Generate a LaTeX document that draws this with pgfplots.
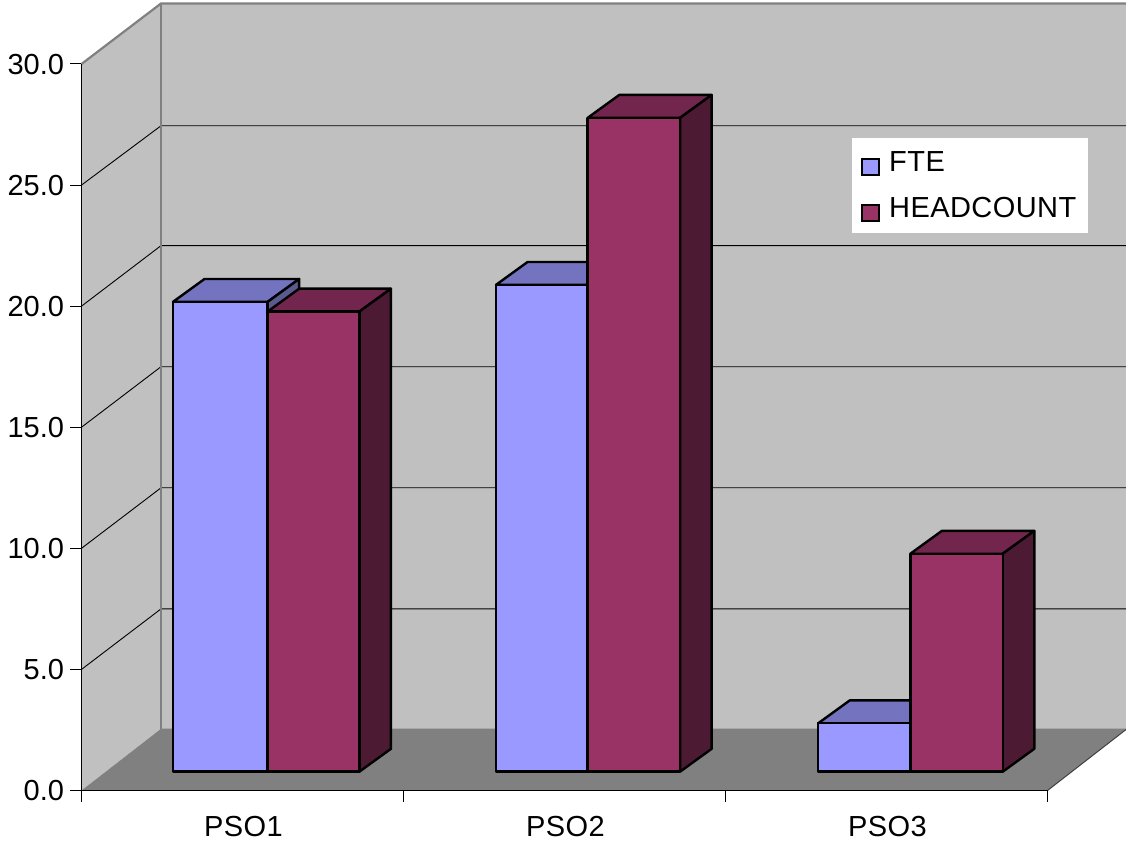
\documentclass[border=0pt]{standalone}
\usepackage{pgfplots}
\pgfplotsset{compat=1.18}
\usepackage{fontspec}
\setmainfont{Liberation Sans}
\newfontfamily\spacedsans[LetterSpace=1.5]{Liberation Sans}

\definecolor{wall}{HTML}{C0C0C0}
\definecolor{floorgrey}{HTML}{808080}
\definecolor{fteFront}{HTML}{9999FF}
\definecolor{fteTop}{HTML}{7373BF}
\definecolor{fteSide}{HTML}{5A5A90}
\definecolor{hcFront}{HTML}{993366}
\definecolor{hcTop}{HTML}{73264D}
\definecolor{hcSide}{HTML}{4D1A33}

% depth of the chart box and of a bar, in axis units
\def\boxdx{0.247}
\def\bardx{0.098}
\def\bardy{0.945}
\def\barbase{0.777}

% one bar: left edge, right edge, value, front, top and side colours
\newcommand{\threedbar}[6]{%
  \pgfmathsetmacro{\ytop}{\barbase+#3}%
  \pgfmathsetmacro{\xlb}{#1+\bardx}%
  \pgfmathsetmacro{\xrb}{#2+\bardx}%
  \pgfmathsetmacro{\ytopb}{\ytop+\bardy}%
  \pgfmathsetmacro{\ybaseb}{\barbase+\bardy}%
  \addplot[barface, fill=#5] coordinates {(#1,\ytop) (\xlb,\ytopb) (\xrb,\ytopb) (#2,\ytop)} -- cycle;
  \addplot[barface, fill=#6] coordinates {(#2,\barbase) (\xrb,\ybaseb) (\xrb,\ytopb) (#2,\ytop)} -- cycle;
  \addplot[barface, fill=#4] coordinates {(#1,\barbase) (#1,\ytop) (#2,\ytop) (#2,\barbase)} -- cycle;
}

\begin{document}
\begin{tikzpicture}[x=1pt,y=1pt]
\path[use as bounding box] (-81.5,-52.5) rectangle (1044.5,790.5);
\begin{axis}[
  at={(0pt,0pt)}, anchor=south west,
  scale only axis, width=966pt, height=726.5pt,
  clip=false, axis on top=true,
  xmin=0, xmax=3, ymin=0, ymax=30,
  axis x line*=bottom, axis y line*=left,
  axis line style={-, line width=1pt, black},
  tick style={line width=1pt, black},
  tick align=outside, major tick length=11pt,
  xtick={0,1,2,3}, x tick label as interval,
  xticklabels={PSO1,PSO2,PSO3},
  ytick={0,5,...,30},
  /pgf/number format/fixed,
  /pgf/number format/fixed zerofill,
  /pgf/number format/precision=1,
  /pgf/number format/assume math mode=true,
  xticklabel style={yshift=-11.5pt, xshift=1pt, font=\fontsize{29}{32}\spacedsans},
  yticklabel style={xshift=-3pt, yshift=-0.5pt, font=\fontsize{29}{32}\selectfont},
  barface/.style={draw=black, line width=2.4pt, line join=round, forget plot},
  legend image code/.code={%
    \path[draw=none,fill=none] (0pt,0pt) -- (25pt,0pt);
    \begin{pgfinterruptboundingbox}
    \draw[#1] (0pt,-12.5pt) rectangle (17pt,3.5pt);
    \end{pgfinterruptboundingbox}},
  legend style={
    at={(0.7976,0.898)}, anchor=north west,
    draw=none, fill=white, inner xsep=10pt, inner ysep=11.7pt,
    font=\fontsize{29}{32}\spacedsans,
    row sep=20pt,
  },
  legend cell align=left,
]
% walls and floor of the chart box
\addplot[fill=wall, draw=none, forget plot] coordinates {(0,0) (0,30) (\boxdx,32.5) (\boxdx,2.55)} -- cycle;
\addplot[fill=wall, draw=none, forget plot] coordinates {(\boxdx,2.55) (\boxdx,32.5) (3.247,32.5) (3.247,2.55)} -- cycle;
\addplot[fill=floorgrey, draw=none, forget plot] coordinates {(0,0) (\boxdx,2.55) (3.247,2.55) (3,0)} -- cycle;
\addplot[draw=black!75, line width=1pt, forget plot] coordinates {(3,0) (3.247,2.55)};

% grid lines running round the walls
\addplot[draw=black, line width=0.9pt, forget plot] coordinates {(0,5) (\boxdx,7.5) (3.247,7.5)};
\addplot[draw=black, line width=0.9pt, forget plot] coordinates {(0,10) (\boxdx,12.5) (3.247,12.5)};
\addplot[draw=black, line width=0.9pt, forget plot] coordinates {(0,15) (\boxdx,17.5) (3.247,17.5)};
\addplot[draw=black, line width=0.9pt, forget plot] coordinates {(0,20) (\boxdx,22.5) (3.247,22.5)};
\addplot[draw=black, line width=0.9pt, forget plot] coordinates {(0,25) (\boxdx,27.45) (3.247,27.45)};

% grey outline of the box
\addplot[draw=floorgrey, line width=2.2pt, forget plot] coordinates {(0,30) (\boxdx,32.5) (3.247,32.5)};
\addplot[draw=floorgrey, line width=2.2pt, forget plot] coordinates {(\boxdx,2.55) (\boxdx,32.5)};

% bars: PSO1, PSO2, PSO3
\threedbar{0.284}{0.578}{19.4}{fteFront}{fteTop}{fteSide}
\threedbar{0.578}{0.863}{19.0}{hcFront}{hcTop}{hcSide}
\threedbar{1.287}{1.572}{20.1}{fteFront}{fteTop}{fteSide}
\threedbar{1.572}{1.859}{27.0}{hcFront}{hcTop}{hcSide}
\threedbar{2.288}{2.574}{2.0}{fteFront}{fteTop}{fteSide}
\threedbar{2.574}{2.861}{9.0}{hcFront}{hcTop}{hcSide}

\addlegendimage{fill=fteFront, draw=black, line width=2pt}
\addlegendentry{FTE\rule[-8.5pt]{0pt}{1pt}}
\addlegendimage{fill=hcFront, draw=black, line width=2pt}
\addlegendentry{HEADCOUNT\rule[-8.5pt]{0pt}{1pt}}
\end{axis}
\end{tikzpicture}
\end{document}
